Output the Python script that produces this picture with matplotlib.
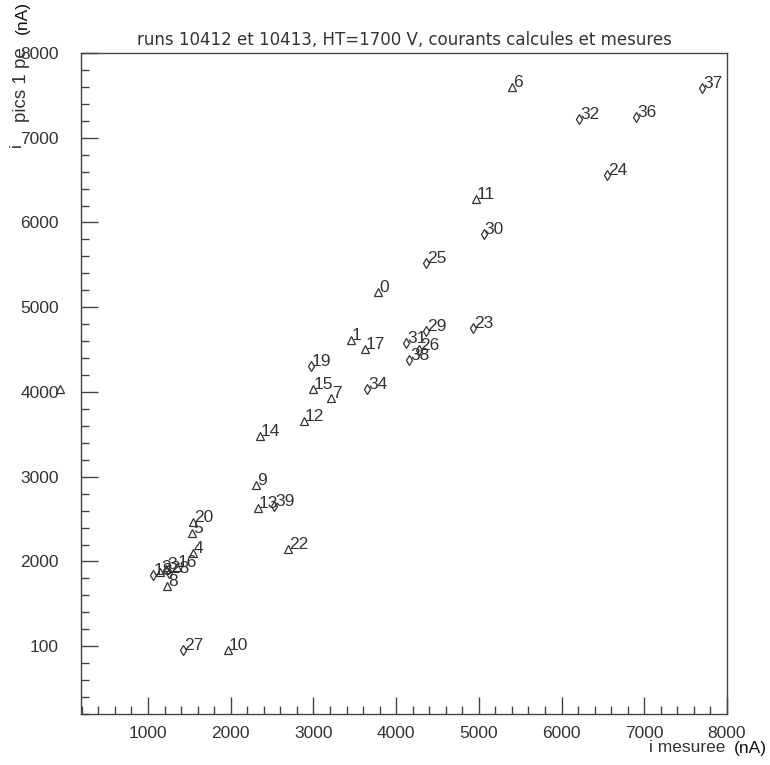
import matplotlib
matplotlib.use("Agg")
import matplotlib.pyplot as plt
from matplotlib.ticker import MultipleLocator, FixedLocator

# ---- data ----
tri_labels = ["6", "11", "0", "1", "17", "15", "7", "12", "14", "9", "13", "22",
              "20", "5", "4", "16", "2", "3", "8", "10", ""]
tri_x = [5400, 4965, 3780, 3455, 3625, 2995, 3215, 2885, 2355, 2305, 2330, 2690,
         1545, 1530, 1545, 1350, 1145, 1220, 1230, 1965, -60]
tri_y = [7600, 6275, 5180, 4610, 4505, 4030, 3925, 3655, 3475, 2900, 2630, 2145,
         2470, 2330, 2095, 1940, 1880, 1915, 1710, 950, 4030]

dia_labels = ["37", "32", "36", "24", "30", "25", "31", "29", "26", "38", "23",
              "19", "34", "39", "18", "28", "27"]
dia_x = [7700, 6210, 6900, 6550, 5060, 4360, 4120, 4360, 4275, 4155, 4930,
         2970, 3650, 2525, 1060, 1250, 1425]
dia_y = [7590, 7220, 7245, 6560, 5860, 5520, 4575, 4715, 4490, 4375, 4750,
         4305, 4030, 2650, 1845, 1860, 960]

xticks = [1000, 2000, 3000, 4000, 5000, 6000, 7000, 8000]
xticklabels = ["1000", "2000", "3000", "4000", "5000", "6000", "7000", "8000"]
yticks = [1000, 2000, 3000, 4000, 5000, 6000, 7000, 8000]
yticklabels = ["100", "2000", "3000", "4000", "5000", "6000", "7000", "8000"]

title = "runs 10412 et 10413, HT=1700 V, courants calcules et mesures"

# ---- style ----
plt.rcParams["font.family"] = ["Liberation Sans", "DejaVu Sans"]
ink = "#333333"

fig = plt.figure(figsize=(7.70, 7.65), dpi=100)
ax = fig.add_axes([81 / 770, 1 - 714 / 765, (727 - 81) / 770, (714 - 53) / 765])
ax.set_xlim(190, 8000)
ax.set_ylim(200, 8000)

for s in ax.spines.values():
    s.set_color("#444444")
    s.set_linewidth(1.0)

ax.xaxis.set_major_locator(FixedLocator(xticks))
ax.yaxis.set_major_locator(FixedLocator(yticks))
ax.set_xticklabels(xticklabels)
ax.set_yticklabels(yticklabels)
ax.xaxis.set_minor_locator(MultipleLocator(200))
ax.yaxis.set_minor_locator(MultipleLocator(200))
ax.tick_params(which="both", direction="in", top=False, right=False,
               colors="#444444", labelcolor=ink, labelsize=12.5)
ax.tick_params(which="major", length=12, width=1.0)
ax.tick_params(which="minor", length=6, width=1.0)
ax.tick_params(axis="x", pad=9)
ax.tick_params(axis="y", pad=16)

ax.plot(tri_x, tri_y, linestyle="none", marker="^", markersize=6,
        markerfacecolor="none", markeredgecolor=ink, markeredgewidth=0.9,
        clip_on=False)
ax.plot(dia_x, dia_y, linestyle="none", marker="d", markersize=5.5,
        markerfacecolor="none", markeredgecolor=ink, markeredgewidth=0.9,
        clip_on=False)

for lab, x, y in zip(tri_labels, tri_x, tri_y):
    if lab:
        ax.annotate(lab, (x, y), xytext=(1, 0), textcoords="offset pixels",
                    ha="left", va="baseline", fontsize=12.5, color=ink)
for lab, x, y in zip(dia_labels, dia_x, dia_y):
    ax.annotate(lab, (x, y), xytext=(1, 0), textcoords="offset pixels",
                ha="left", va="baseline", fontsize=12.5, color=ink)

fig.text(404 / 770, 1 - 40 / 765, title, ha="center", va="center",
         fontsize=12, color=ink, family="DejaVu Sans")

# axis titles (ROOT-like placement)
fig.text(767 / 770, 1 - 748 / 765, "(nA)", ha="right", va="center",
         fontsize=12.5, color="#111111")
fig.text(725 / 770, 1 - 748 / 765, "i mesuree", ha="right", va="center",
         fontsize=12.5, color=ink)
fig.text(22 / 770, 1 - 1 / 765, "(nA)", ha="center", va="top", rotation=90,
         fontsize=12.5, color="#111111")
fig.text(22 / 770, 1 - 47 / 765, "pics 1 pe", ha="center", va="top",
         rotation=90, fontsize=13.5, color=ink)
fig.text(16 / 770, 1 - 147 / 765, "i", ha="center", va="bottom",
         rotation=90, fontsize=12.5, color=ink)

fig.savefig("out.png", dpi=100, facecolor="white")
